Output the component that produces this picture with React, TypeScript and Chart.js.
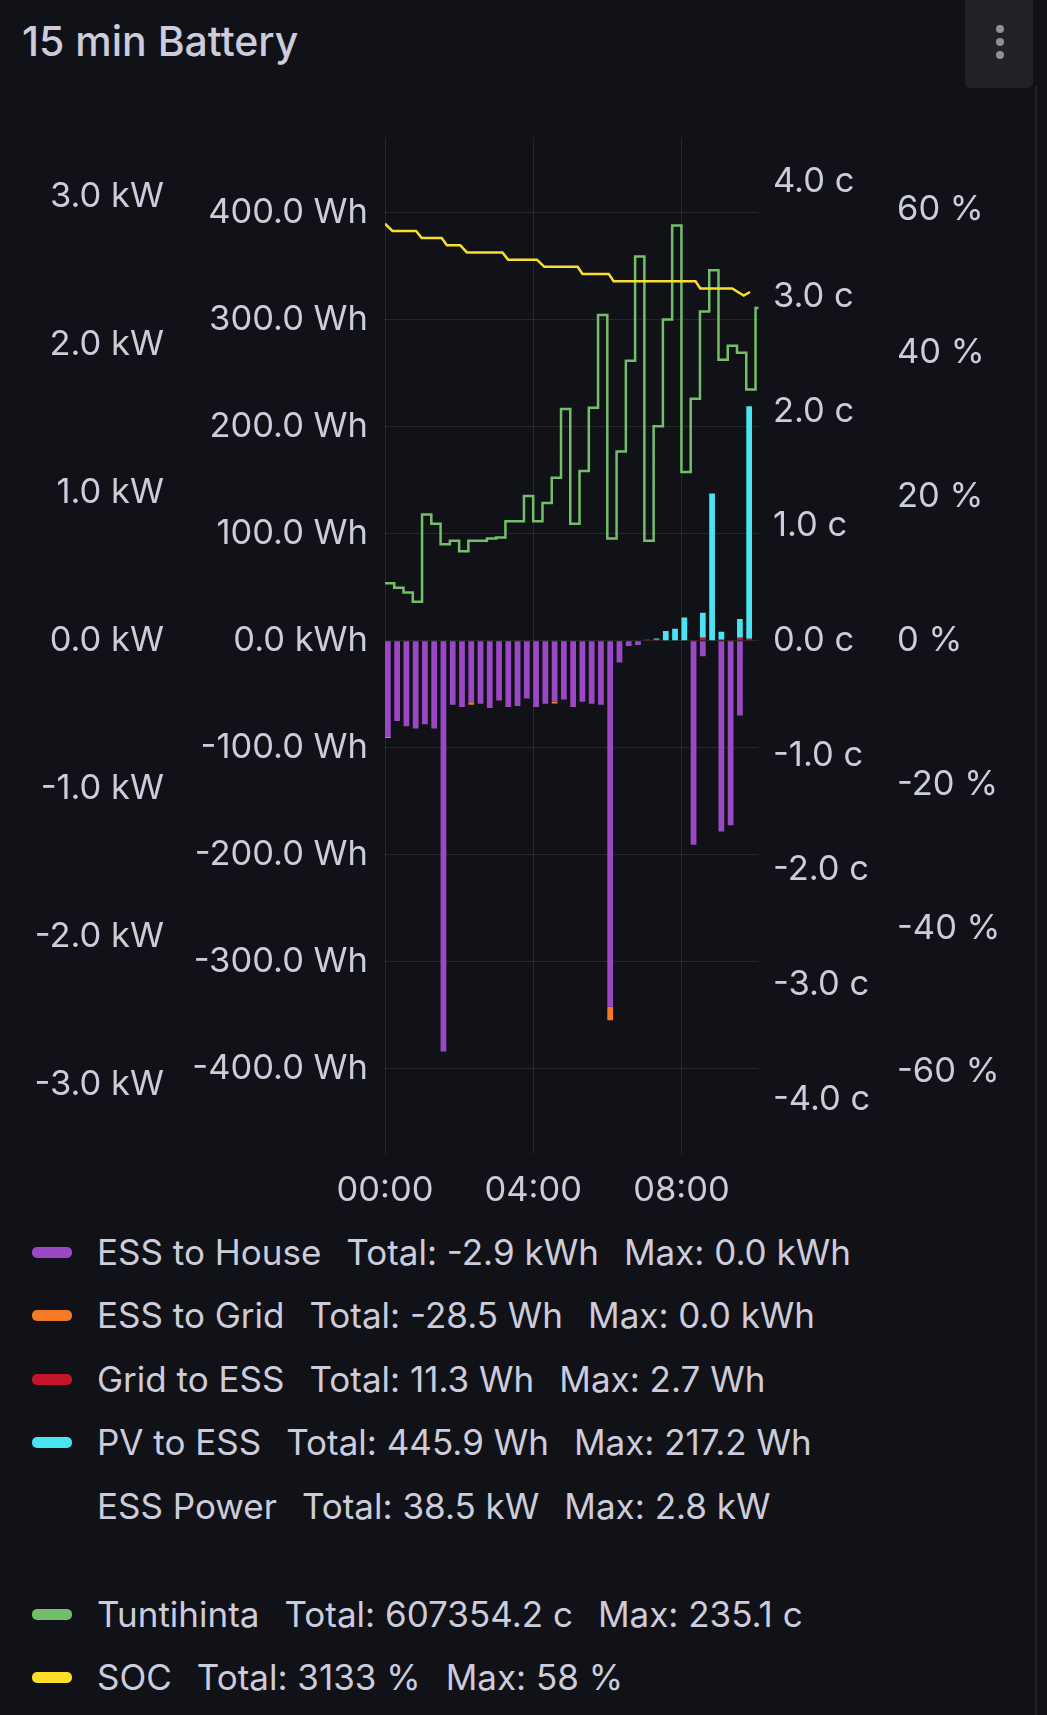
import React, { useEffect, useRef } from 'react';
import { Chart, registerables } from 'chart.js';

Chart.register(...registerables);

// ---- data ----
const SLOT_HOURS = 0.25; // 15 min slots
const X_MAX_HOURS = 10.08;
const X_TICK_HOURS = [0, 4, 8];
const X_TICK_LABELS = ['00:00', '04:00', '08:00'];

// Wh per 15-min slot, slot 0 = 00:00
const ESS_TO_HOUSE = [
  -90, -75, -80, -82, -78, -82, -384, -60, -62, -57.5,
  -59, -63, -56, -62, -61, -54, -62, -59, -57, -55,
  -62, -57, -59, -60, -342, -20.5, -5, -4, 0, 0,
  0, 0, 0, -190.7, -14.6, 0, -178.3, -172.4, -69.9, 0,
];
const ESS_TO_GRID = [
  -1, 0, 0, 0, 0, 0, 0, 0, 0, -2.5,
  0, 0, 0, 0, 0, 0, 0, 0, -1.8, 0,
  0, 0, 0, 0, -12.7, 0, 0, 0, 0, 0,
  0, 0, 0, 0, 0, 0, 0, 0, 0, 0,
];
const GRID_TO_ESS = [
  0, 0, 0, 0, 0, 0, 0, 0, 0, 0,
  0, 0, 0, 0, 0, 0, 0, 0, 0, 0,
  0, 0, 0, 0, 0, 0, 0, 0, 1.2, 0.8,
  0, 0, 0, 0.6, 2.7, 0, 0.8, 0.7, 2.7, 1.8,
];
const PV_TO_ESS = [
  0, 0, 0, 0, 0, 0, 0, 0, 0, 0,
  0, 0, 0, 0, 0, 0, 0, 0, 0, 0,
  0, 0, 0, 0, 0, 0, 0, 0, 0, 1.2,
  9, 11.2, 21.7, 0, 23.3, 137.5, 7.6, 0, 17.5, 217.2,
];

// price (c), stepped, slot 0 = 00:00
const TUNTIHINTA = [
  0.5, 0.46, 0.42, 0.34, 1.1, 1.02, 0.84, 0.87, 0.78, 0.87,
  0.87, 0.89, 0.9, 1.04, 1.04, 1.26, 1.04, 1.2, 1.42, 2.02,
  1.02, 1.48, 2.03, 2.84, 0.89, 1.65, 2.44, 3.35, 0.87, 1.87,
  2.8, 3.62, 1.47, 2.11, 2.87, 3.23, 2.45, 2.57, 2.51, 2.19,
  2.9, 2.9,
];

// state of charge (%)
const SOC_TIMES = [0, 0.2, 0.84, 0.99, 1.53, 1.67, 2.03, 2.21, 3.17, 3.32, 4.1, 4.3, 5.2, 5.33, 6.04, 6.17, 8.38, 8.51, 9.37, 9.68, 9.85];
const SOC_VALUES = [58, 57, 57, 56, 56, 55, 55, 54, 54, 53, 53, 52, 52, 51, 51, 50, 50, 49, 49, 48, 48.5];

const LEGEND_LABELS = ['ESS to House', 'ESS to Grid', 'Grid to ESS', 'PV to ESS', 'ESS Power', 'Tuntihinta', 'SOC'];
const LEGEND_TOTALS = ['Total: -2.9 kWh', 'Total: -28.5 Wh', 'Total: 11.3 Wh', 'Total: 445.9 Wh', 'Total: 38.5 kW', 'Total: 607354.2 c', 'Total: 3133 %'];
const LEGEND_MAXES = ['Max: 0.0 kWh', 'Max: 0.0 kWh', 'Max: 2.7 Wh', 'Max: 217.2 Wh', 'Max: 2.8 kW', 'Max: 235.1 c', 'Max: 58 %'];

// ---- styles ----
const BG = '#111217';
const TEXT = '#ccccdc';
const GRID = 'rgba(240,250,255,0.09)';
const PURPLE = '#9a48c4';
const ORANGE = '#f57a28';
const DARK_RED = '#c4162a';
const CYAN = '#4ae3f2';
const GREEN = '#73bf69';
const YELLOW = '#fade2a';
const LEGEND_COLORS = [PURPLE, ORANGE, DARK_RED, CYAN, 'transparent', GREEN, YELLOW];
const LEGEND_TOPS = [1235, 1298.4, 1361.8, 1425.2, 1488.6, 1596.5, 1659.9];
const BAR_FRACTION = 0.62;
const FONT = { family: 'Inter', size: 34.5 };

export default function App() {
  const canvasRef = useRef<HTMLCanvasElement | null>(null);

  useEffect(() => {
    document.body.style.margin = '0';
    document.body.style.background = BG;
    const slotCenter = (i: number) => i * SLOT_HOURS + (SLOT_HOURS * BAR_FRACTION) / 2;
    const barSeries = (values: number[]) => values.map((v, i) => ({ x: slotCenter(i), y: v }));
    const barBase = {
      type: 'bar' as const,
      yAxisID: 'yWh',
      stack: 'wh',
      order: 2,
      barPercentage: BAR_FRACTION,
      categoryPercentage: 1,
      borderWidth: 0,
    };
    const tickBase = { font: FONT, color: TEXT, includeBounds: false };
    const noGrid = { display: false, drawTicks: false };

    const chart = new Chart(canvasRef.current as HTMLCanvasElement, {
      type: 'bar',
      data: {
        datasets: [
          {
            type: 'line',
            label: 'SOC',
            data: SOC_TIMES.map((t, i) => ({ x: t, y: SOC_VALUES[i] })),
            yAxisID: 'yPct',
            borderColor: YELLOW,
            borderWidth: 2.5,
            pointRadius: 0,
            tension: 0,
            order: 0,
          },
          {
            type: 'line',
            label: 'Tuntihinta',
            data: TUNTIHINTA.map((v, i) => ({ x: i * SLOT_HOURS, y: v })),
            yAxisID: 'yC',
            borderColor: GREEN,
            borderWidth: 2.5,
            pointRadius: 0,
            stepped: 'before',
            order: 1,
          },
          { ...barBase, label: 'ESS to House', data: barSeries(ESS_TO_HOUSE), backgroundColor: PURPLE },
          { ...barBase, label: 'ESS to Grid', data: barSeries(ESS_TO_GRID), backgroundColor: ORANGE },
          { ...barBase, label: 'Grid to ESS', data: barSeries(GRID_TO_ESS), backgroundColor: DARK_RED },
          { ...barBase, label: 'PV to ESS', data: barSeries(PV_TO_ESS), backgroundColor: CYAN },
        ] as any,
      },
      options: {
        animation: false,
        responsive: true,
        maintainAspectRatio: false,
        layout: { padding: { top: 35, left: 0, right: 0, bottom: 0 } },
        plugins: { legend: { display: false }, tooltip: { enabled: false } },
        scales: {
          x: {
            type: 'linear',
            min: 0,
            max: X_MAX_HOURS,
            offset: false,
            grid: { offset: false, color: GRID, drawTicks: false },
            border: { display: false },
            ticks: {
              ...tickBase,
              padding: 16,
              maxRotation: 0,
              autoSkip: false,
              callback: (_v: any, index: number) => X_TICK_LABELS[index],
            },
            afterBuildTicks: (s: any) => {
              s.ticks = X_TICK_HOURS.map((v) => ({ value: v }));
            },
            afterFit: (s: any) => {
              s.height = 76;
            },
          },
          yKW: {
            type: 'linear',
            axis: 'y',
            position: 'left',
            weight: 1,
            min: -3.47,
            max: 3.4,
            grid: noGrid,
            border: { display: false },
            ticks: { ...tickBase, stepSize: 1, padding: 16, callback: (v: any) => `${Number(v).toFixed(1)} kW` },
            afterFit: (s: any) => {
              s.width = 180;
            },
          },
          yWh: {
            type: 'linear',
            axis: 'y',
            position: 'left',
            weight: 0,
            min: -479.7,
            max: 470,
            grid: { color: GRID, drawTicks: false },
            border: { display: false },
            ticks: {
              ...tickBase,
              stepSize: 100,
              padding: 17,
              callback: (v: any) => (Number(v) === 0 ? '0.0 kWh' : `${Number(v).toFixed(1)} Wh`),
            },
            afterFit: (s: any) => {
              s.width = 205;
            },
          },
          yC: {
            type: 'linear',
            axis: 'y',
            position: 'right',
            weight: 0,
            min: -4.476,
            max: 4.385,
            grid: noGrid,
            border: { display: false },
            ticks: { ...tickBase, stepSize: 1, padding: 14.5, callback: (v: any) => `${Number(v).toFixed(1)} c` },
            afterFit: (s: any) => {
              s.width = 124;
            },
          },
          yPct: {
            type: 'linear',
            axis: 'y',
            position: 'right',
            weight: 1,
            min: -71.4,
            max: 69.96,
            grid: noGrid,
            border: { display: false },
            ticks: { ...tickBase, stepSize: 20, padding: 14.5, callback: (v: any) => `${Number(v)} %` },
            afterFit: (s: any) => {
              s.width = 153.5;
            },
          },
        } as any,
      },
    });
    return () => chart.destroy();
  }, []);

  return (
    <div
      style={{
        position: 'absolute',
        left: 0,
        top: 0,
        width: 1047,
        height: 1715,
        background: BG,
        overflow: 'hidden',
        fontFamily: 'Inter, sans-serif',
        color: TEXT,
      }}
    >
      <div style={{ position: 'absolute', left: 22, top: 20.6, fontSize: 41, lineHeight: '41px', fontWeight: 500, whiteSpace: 'nowrap' }}>
        15 min Battery
      </div>
      <div style={{ position: 'absolute', left: 965, top: 0, width: 68, height: 88, background: '#202226', borderRadius: '0 0 6px 6px' }}>
        {[24.7, 38, 51.3].map((t) => (
          <div key={t} style={{ position: 'absolute', left: 31, top: t, width: 8, height: 8, borderRadius: 4, background: '#8e8f9b' }} />
        ))}
      </div>
      <div style={{ position: 'absolute', left: 1035, top: 86, width: 2, height: 1629, background: '#222329' }} />
      <div style={{ position: 'absolute', left: 0, top: 100, width: 1036, height: 1130 }}>
        <canvas ref={canvasRef} />
      </div>
      {LEGEND_LABELS.map((label, i) => (
        <div key={label} style={{ position: 'absolute', left: 0, top: LEGEND_TOPS[i], height: 35, width: 1030 }}>
          <div
            style={{
              position: 'absolute',
              left: 32,
              top: 12,
              width: 40,
              height: 11,
              borderRadius: 5,
              background: LEGEND_COLORS[i],
            }}
          />
          <div
            style={{
              position: 'absolute',
              left: 97,
              top: 0,
              display: 'flex',
              gap: 25,
              fontSize: 35,
              lineHeight: '35px',
              whiteSpace: 'nowrap',
            }}
          >
            <span>{label}</span>
            <span>{LEGEND_TOTALS[i]}</span>
            <span>{LEGEND_MAXES[i]}</span>
          </div>
        </div>
      ))}
    </div>
  );
}
